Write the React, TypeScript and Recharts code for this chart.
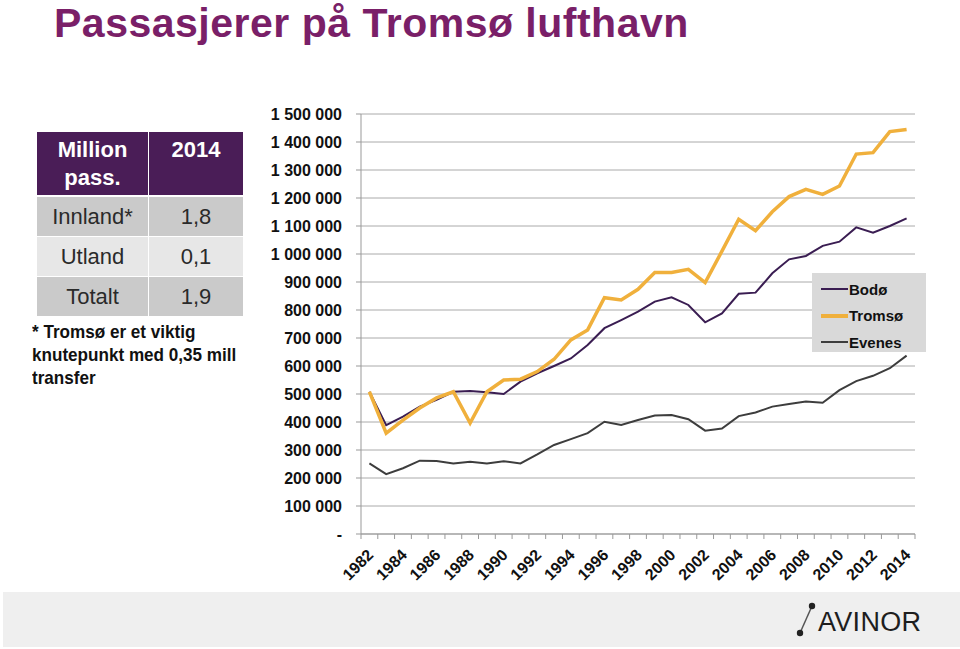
import React from "react";
import { CartesianGrid, Legend, Line, LineChart, XAxis, YAxis } from "recharts";

const years = [
  "1982", "1983", "1984", "1985", "1986", "1987", "1988", "1989", "1990", "1991", "1992",
  "1993", "1994", "1995", "1996", "1997", "1998", "1999", "2000", "2001", "2002", "2003",
  "2004", "2005", "2006", "2007", "2008", "2009", "2010", "2011", "2012", "2013", "2014",
];

const bodo = [
  508000, 389000, 419000, 455000, 479000, 508000, 511000, 506000, 500000, 544000, 574000,
  600000, 627000, 675000, 735000, 764000, 794000, 830000, 845000, 818000, 756000, 788000,
  858000, 862000, 931000, 981000, 993000, 1029000, 1044000, 1095000, 1076000, 1100000, 1127000,
];

const tromso = [
  508000, 360000, 407000, 450000, 486000, 508000, 396000, 508000, 550000, 553000, 580000,
  624000, 693000, 729000, 844000, 836000, 874000, 934000, 934000, 945000, 898000, 1010000,
  1124000, 1083000, 1151000, 1205000, 1231000, 1213000, 1243000, 1357000, 1362000, 1437000, 1445000,
];

const evenes = [
  252000, 214000, 235000, 262000, 261000, 252000, 258000, 252000, 260000, 252000, 284000,
  318000, 339000, 360000, 401000, 389000, 407000, 423000, 425000, 410000, 369000, 377000,
  421000, 434000, 455000, 464000, 473000, 469000, 514000, 546000, 565000, 592000, 637000,
];

const yTicks = [
  0, 100000, 200000, 300000, 400000, 500000, 600000, 700000, 800000,
  900000, 1000000, 1100000, 1200000, 1300000, 1400000, 1500000,
];

const tableRows = [
  { label: "Innland*", value: "1,8" },
  { label: "Utland", value: "0,1" },
  { label: "Totalt", value: "1,9" },
];

const series = [
  { key: "Bodø", color: "#3a1d52", width: 2 },
  { key: "Tromsø", color: "#f0b03c", width: 3.5 },
  { key: "Evenes", color: "#3d3d3d", width: 2 },
];

const data = years.map((year, i) => ({
  year,
  "Bodø": bodo[i],
  "Tromsø": tromso[i],
  Evenes: evenes[i],
}));

const FONT = '"Liberation Sans", Arial, Helvetica, sans-serif';
const PLOT_W = 554;
const HALF = PLOT_W / years.length / 2;

const fmt = (v: number) => (v === 0 ? "-" : String(v).replace(/\B(?=(\d{3})+(?!\d))/g, " "));

const XTick = (props: any) => {
  const { x, y, payload, index } = props;
  const tx = x + 5;
  const ty = y + 22;
  return (
    <g>
      <line x1={x - HALF} x2={x - HALF} y1={y} y2={y + 5} stroke="#999" />
      {index === years.length - 1 && <line x1={x + HALF} x2={x + HALF} y1={y} y2={y + 5} stroke="#999" />}
      {index % 2 === 0 && (
        <text
          x={tx}
          y={ty}
          transform={`rotate(-45 ${tx} ${ty})`}
          textAnchor="end"
          fontSize={16}
          fontWeight="bold"
          fontFamily={FONT}
          fill="#111"
        >
          {payload.value}
        </text>
      )}
    </g>
  );
};

const LegendBox = () => (
  <div style={{ background: "#d9d9d9", width: 114, height: 79, paddingTop: 3, boxSizing: "border-box" }}>
    {series.map((s) => (
      <div key={s.key} style={{ display: "flex", alignItems: "center", height: 26.5 }}>
        <div style={{ width: 27, height: s.width, background: s.color, marginLeft: 9 }} />
        <span style={{ fontFamily: FONT, fontWeight: "bold", fontSize: 15, color: "#111", marginLeft: 1 }}>
          {s.key}
        </span>
      </div>
    ))}
  </div>
);

const cell: React.CSSProperties = {
  position: "absolute",
  display: "flex",
  justifyContent: "center",
  alignItems: "center",
  fontFamily: FONT,
  fontSize: 22,
  color: "#2a2a2a",
};

export default function App() {
  return (
    <div style={{ position: "absolute", left: 0, top: 0, width: 960, height: 649, background: "#fff", overflow: "hidden" }}>
      <div style={{ position: "absolute", left: 3, top: 592, width: 957, height: 55, background: "#efefef" }} />

      <div style={{ position: "absolute", left: 0, top: 0 }}>
        <LineChart width={960} height={649} data={data} margin={{ top: 114, right: 45, bottom: 55, left: 0 }}>
          <CartesianGrid vertical={false} stroke="#aaa" />
          <XAxis
            dataKey="year"
            interval={0}
            height={60}
            padding={{ left: HALF, right: HALF }}
            tickLine={false}
            tickSize={0}
            tickMargin={0}
            axisLine={{ stroke: "#999" }}
            tick={<XTick />}
          />
          <YAxis
            width={361}
            domain={[0, 1500000]}
            ticks={yTicks}
            interval={0}
            tickFormatter={fmt}
            tickSize={5}
            tickMargin={14}
            axisLine={{ stroke: "#999" }}
            tickLine={{ stroke: "#999" }}
            tick={{ fontSize: 16, fontWeight: "bold", fill: "#111", fontFamily: FONT }}
          />
          <Legend
            layout="vertical"
            align="center"
            verticalAlign="middle"
            content={<LegendBox />}
            wrapperStyle={{ position: "absolute", left: 812, top: 273, width: 114, height: 79 }}
          />
          {series.map((s) => (
            <Line
              key={s.key}
              type="linear"
              dataKey={s.key}
              stroke={s.color}
              strokeWidth={s.width}
              dot={false}
              isAnimationActive={false}
            />
          ))}
        </LineChart>
      </div>

      <div
        style={{
          position: "absolute",
          left: 54,
          top: 0,
          fontFamily: FONT,
          fontWeight: "bold",
          fontSize: 41,
          lineHeight: "46px",
          letterSpacing: 0.5,
          color: "#7a1f68",
          whiteSpace: "nowrap",
        }}
      >
        Passasjerer på Tromsø lufthavn
      </div>

      <div style={{ ...cell, left: 37, top: 132, width: 111, height: 63, background: "#4a1d57", color: "#fff", fontWeight: "bold", lineHeight: "28px", alignItems: "flex-start", paddingTop: 4, boxSizing: "border-box", textAlign: "center" }}>
        Million<br />pass.
      </div>
      <div style={{ ...cell, left: 149, top: 132, width: 94, height: 63, background: "#4a1d57", color: "#fff", fontWeight: "bold", lineHeight: "28px", alignItems: "flex-start", paddingTop: 4, boxSizing: "border-box" }}>
        2014
      </div>
      {tableRows.map((r, i) => (
        <React.Fragment key={r.label}>
          <div style={{ ...cell, left: 37, top: 197 + i * 40, width: 111, height: 39, background: i === 1 ? "#e7e7e7" : "#cacaca" }}>
            {r.label}
          </div>
          <div style={{ ...cell, left: 149, top: 197 + i * 40, width: 94, height: 39, background: i === 1 ? "#e7e7e7" : "#cacaca" }}>
            {r.value}
          </div>
        </React.Fragment>
      ))}

      <div
        style={{
          position: "absolute",
          left: 32,
          top: 320,
          fontFamily: FONT,
          fontWeight: "bold",
          fontSize: 19,
          lineHeight: "23px",
          color: "#111",
          whiteSpace: "nowrap",
          transform: "scaleX(0.9)",
          transformOrigin: "left top",
        }}
      >
        * Tromsø er et viktig<br />knutepunkt med 0,35 mill<br />transfer
      </div>

      <svg style={{ position: "absolute", left: 795, top: 600 }} width={25} height={40}>
        <line x1={5} y1={33} x2={17} y2={6} stroke="#555" strokeWidth={1.5} />
        <circle cx={5} cy={33} r={3.2} fill="#222" />
        <circle cx={17} cy={6} r={3.2} fill="#222" />
      </svg>
      <div
        style={{
          position: "absolute",
          left: 818,
          top: 606,
          fontFamily: FONT,
          fontSize: 27,
          lineHeight: "32px",
          color: "#1e1e1e",
          letterSpacing: 0.3,
        }}
      >
        AVINOR
      </div>
    </div>
  );
}
